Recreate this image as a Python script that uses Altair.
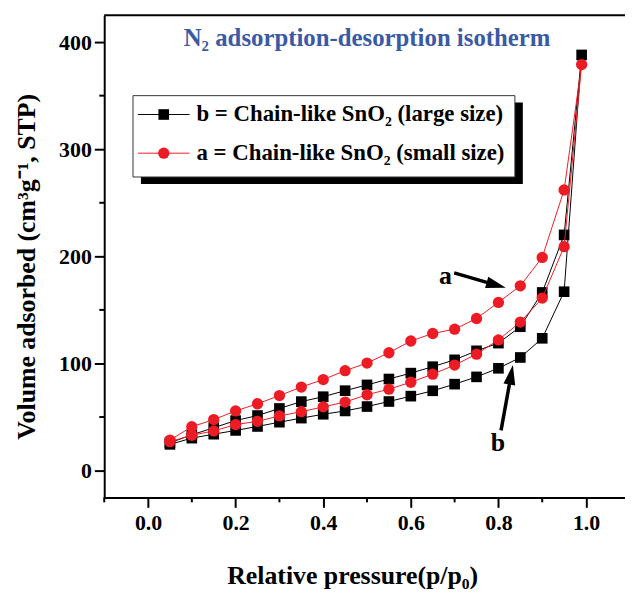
import altair as alt
import pandas as pd

# ---------------- data ----------------
p_rel = [0.05, 0.10, 0.15, 0.20, 0.25, 0.30, 0.35, 0.40, 0.45, 0.50,
         0.55, 0.60, 0.65, 0.70, 0.75, 0.80, 0.85, 0.90, 0.95, 0.99]
# sample a (small size): adsorption and desorption branches (listed by increasing p/p0)
a_ads = [27, 33, 37, 43, 46, 51, 55, 59.5, 64, 70.8,
         76, 82.5, 90, 98.5, 108.7, 122, 138.6, 161, 209, 379]
a_des = [28.5, 41, 47.6, 55.7, 62.4, 70, 78, 85, 93.3, 100.4,
         110, 121, 128, 132, 142, 157, 172.5, 199, 262, 379]
# sample b (large size)
b_ads = [24.5, 30.3, 34, 37.5, 41.2, 45.2, 49, 52.6, 55.7, 59.8,
         64.5, 69.5, 74.5, 80.7, 87.5, 95.5, 105.6, 123.5, 167, 388]
b_des = [26, 33.4, 40, 46.7, 51.4, 58, 64.4, 69, 74.6, 80,
         85.5, 91, 97, 103.4, 111.8, 119, 134.3, 166.3, 220, 388]

series_names = ["b", "a"]
legend_labels = ["b = Chain-like SnO\u2082 (large size)",
                 "a = Chain-like SnO\u2082 (small size)"]
series_colors = ["#000000", "#ed1c24"]
series_shapes = ["square", "circle"]

x_ticks = [0.0, 0.2, 0.4, 0.6, 0.8, 1.0]
x_minor = [-0.1, 0.1, 0.3, 0.5, 0.7, 0.9]
y_ticks = [0, 100, 200, 300, 400]
y_minor = [50, 150, 250, 350]

title_text = "N\u2082 adsorption-desorption isotherm"
x_title = "Relative pressure(p/p\u2080)"
y_title = "Volume adsorbed (cm\u00b3g\u207b\u00b9, STP)"

annot_labels = ["a", "b"]
annot_x = [0.679, 0.799]
annot_y = [181.8, 25.4]
arrow_x = [0.699, 0.806]
arrow_y = [184.6, 37.5]
arrow_x2 = [0.795, 0.829]
arrow_y2 = [173.2, 89.5]
arrow_angle = [15.7, 280.3]

# ---------------- build tables ----------------
rows = []
for name, ads, des in [("b", b_ads, b_des), ("a", a_ads, a_des)]:
    k = 0
    for p, v in zip(p_rel, ads):
        rows.append({"series": name, "p": p, "v": v, "order": k})
        k += 1
    for p, v in zip(p_rel[-2::-1], des[-2::-1]):
        rows.append({"series": name, "p": p, "v": v, "order": k})
        k += 1
df = pd.DataFrame(rows)

FONT = "Liberation Serif"
W, H = 525, 486

xs = alt.Scale(domain=[-0.1, 1.089], nice=False, zero=False)
ys = alt.Scale(domain=[-25, 425], nice=False, zero=False)

x_axis = alt.Axis(values=x_ticks, format=".1f", title=x_title,
                  titleX=250, titleY=79, titleBaseline="middle",
                  titleAlign="center", labelPadding=5)
y_axis = alt.Axis(values=y_ticks, format="d", title=y_title,
                  titleX=-78, titleY=253, titleAngle=-90,
                  titleBaseline="middle", titleAlign="center", labelPadding=3)


def X(field):
    return alt.X(field, type="quantitative", scale=xs, axis=x_axis)


def Y(field):
    return alt.Y(field, type="quantitative", scale=ys, axis=y_axis)


layers = []
one = alt.Chart(pd.DataFrame({"k": [0]}))

# top frame line
layers.append(one.mark_rule(color="black", strokeWidth=2).encode(
    x=alt.value(0), x2=alt.value(W), y=alt.value(0)))

# legend box with shadow
layers.append(one.mark_rect(color="black").encode(
    x=alt.value(37), x2=alt.value(422), y=alt.value(88), y2=alt.value(170)))
layers.append(one.mark_rect(fill="white", stroke="#333333", strokeWidth=1).encode(
    x=alt.value(29), x2=alt.value(414), y=alt.value(81), y2=alt.value(163)))
for i, (lab, col, shp) in enumerate(zip(legend_labels, series_colors, series_shapes)):
    ry = 100 + 39 * i
    layers.append(one.mark_rule(color=col, strokeWidth=1).encode(
        x=alt.value(34), x2=alt.value(86), y=alt.value(ry)))
    layers.append(one.mark_point(shape=shp, filled=True, color=col, opacity=1,
                                 size=115 if shp == "square" else 130).encode(
        x=alt.value(60), y=alt.value(ry)))
    layers.append(one.mark_text(font=FONT, fontSize=23, fontWeight="bold",
                                align="left", baseline="middle", color="black").encode(
        x=alt.value(93), y=alt.value(ry), text=alt.value(lab)))

# title inside the plot
layers.append(one.mark_text(font=FONT, fontSize=25, fontWeight="bold",
                            color="#3b5aa6", align="center", baseline="middle").encode(
    x=alt.value(265), y=alt.value(23), text=alt.value(title_text)))

# curves
curves = alt.Chart(df)
for name, col, shp in zip(series_names, series_colors, series_shapes):
    sub = curves.transform_filter(alt.datum.series == name)
    layers.append(sub.mark_line(color=col, strokeWidth=1).encode(
        x=X("p"), y=Y("v"), order="order:Q"))
    layers.append(sub.mark_point(shape=shp, filled=True, color=col, opacity=1,
                                 size=115 if shp == "square" else 130).encode(
        x=X("p"), y=Y("v")))

# annotations
ann = alt.Chart(pd.DataFrame({"lab": annot_labels, "p": annot_x, "v": annot_y}))
layers.append(ann.mark_text(font=FONT, fontSize=26, fontWeight="bold",
                            color="black", align="center", baseline="middle").encode(
    x=X("p"), y=Y("v"), text="lab:N"))
arr = alt.Chart(pd.DataFrame({"p": arrow_x, "v": arrow_y, "p2": arrow_x2,
                              "v2": arrow_y2, "ang": arrow_angle}))
layers.append(arr.mark_rule(color="black", strokeWidth=3.5).encode(
    x=X("p"), y=Y("v"), x2="p2:Q", y2="v2:Q"))
layers.append(arr.transform_calculate(p="datum.p2", v="datum.v2").mark_point(
    shape="M1,0L-1,-0.6L-1,0.6Z", filled=True,
    color="black", opacity=1, size=400).encode(
    x=X("p"), y=Y("v"), angle=alt.Angle("ang:Q", scale=None)))

# minor ticks
minx = alt.Chart(pd.DataFrame({"p": x_minor}))
layers.append(minx.mark_rule(color="black", strokeWidth=2).encode(
    x=X("p"), y=alt.value(H), y2=alt.value(H + 5)))
miny = alt.Chart(pd.DataFrame({"v": y_minor}))
layers.append(miny.mark_rule(color="black", strokeWidth=2).encode(
    y=Y("v"), x=alt.value(-5), x2=alt.value(0)))

chart = alt.layer(*layers).properties(
    width=W, height=H,
    autosize=alt.AutoSizeParams(type="none"),
    padding={"left": 97, "top": 5, "right": 0, "bottom": 90},
    background="white",
).configure_view(stroke=None).configure_axis(
    grid=False, labelFont=FONT, labelFontSize=22, labelFontWeight="bold",
    labelColor="black", titleFont=FONT, titleFontSize=26, titleFontWeight="bold",
    titleColor="black", domainColor="black", domainWidth=2, tickColor="black",
    tickWidth=2, tickSize=10,
)

chart.save("out.html", embed_options={"renderer": "svg", "actions": False})
